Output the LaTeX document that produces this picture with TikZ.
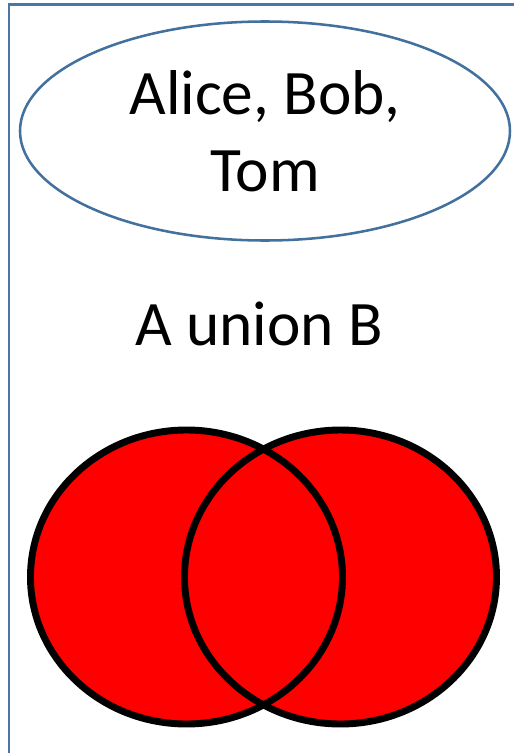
\documentclass[tikz,border=0pt]{standalone}
\usepackage{fontspec}
\setmainfont{Carlito}
\usetikzlibrary{shapes.geometric}

\definecolor{framblue}{HTML}{4A76A8}
\definecolor{ovalblue}{HTML}{41719C}

\begin{document}
\begin{tikzpicture}[
  x=0.75pt, y=-0.75pt,
  members/.style={ellipse, draw=ovalblue, line width=1.9pt, fill=white, text centered, align=center, minimum width=367.5pt, minimum height=164.25pt, inner sep=0pt, font=\fontsize{47.5}{58}\selectfont},
  caption/.style={anchor=base, font=\fontsize{47.5}{58}\selectfont},
  vennfill/.style={ellipse, fill=red, minimum width=234pt, minimum height=220.5pt, inner sep=0pt},
  vennline/.style={ellipse, draw=black, line width=5.2pt, minimum width=234pt, minimum height=220.5pt, inner sep=0pt}
]
  \useasboundingbox[fill=white] (0,0) rectangle (514,753);

  % Frame (left and top edges)
  \coordinate (frametop) at (514,4.5);
  \coordinate (framecorner) at (9,4.5);
  \coordinate (framebottom) at (9,753);
  \draw[framblue, line width=1.9pt] (frametop) -- (framecorner) -- (framebottom);

  % Result set
  \node[members] (result) at (265,131) {Alice, Bob,\\Tom};

  % Title
  \node[caption] (title) at (259,345) {A union B};

  % Venn diagram: fills first, outlines on top
  \node[vennfill] (setA) at (186.5,577) {};
  \node[vennfill] (setB) at (340.5,577) {};
  \node[vennline] (lineA) at (setA) {};
  \node[vennline] (lineB) at (setB) {};

\end{tikzpicture}
\end{document}
